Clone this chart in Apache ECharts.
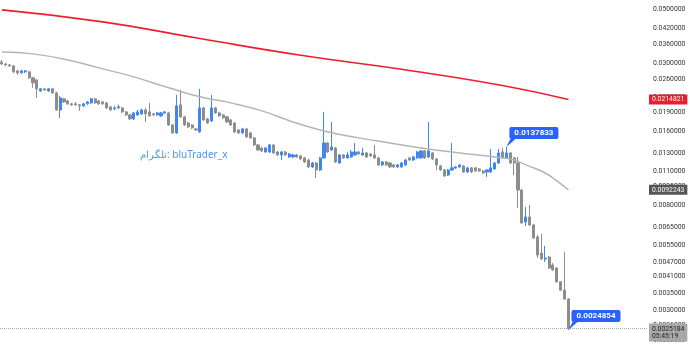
<!DOCTYPE html>
<html>
<head>
<meta charset="utf-8">
<script src="https://cdn.jsdelivr.net/npm/echarts@6/dist/echarts.min.js"></script>
<style>
html,body{margin:0;padding:0;background:#fff;}
#chart{width:690px;height:348px;}
</style>
</head>
<body>
<div id="chart"></div>
<script>
// ---- data ----
const opens = [
.03053,.02997,.02969,.02942,.02808,.02756,.02782,.02782,.02631,.02581,
.02328,.02373,.02328,.02373,.02285,.01949,.02161,.02120,.02062,.02062,
.02043,.02024,.02062,.02081,.02161,.02120,.02100,.02081,.02005,.01968,
.01986,.01986,.01913,.01860,.01792,.01860,.01878,.01949,.01913,.01878,
.01860,.01843,.01895,.01895,.01693,.01571,.02043,.01826,.01725,.01693,
.01631,.01586,.01986,.01792,.01758,.01986,.01895,.01860,.01826,.01774,
.01725,.01616,.01571,.01631,.01571,.01500,.01404,.01365,.01315,.01315,
.01404,.01315,.01279,.01315,.01255,.01255,.01279,.01267,.01244,.01220,
.01143,.01186,.01111,.01244,.01430,.01340,.01365,.01186,.01279,.01244,
.01255,.01279,.01315,.01279,.01303,.01291,.01279,.01244,.01165,.01198,
.01186,.01165,.01143,.01143,.01165,.01244,.01220,.01244,.01244,.01328,
.01255,.01303,.01232,.01154,.01111,.01060,.01111,.01133,.01143,.01154,
.01091,.01133,.01133,.01122,.01101,.01091,.01091,.01122,.01186,.01315,
.01244,.01303,.01244,.01186,.00921,.00683,.00716,.00664,.00594,.00511,
.00483,.00492,.00457,.00444,.00390,.00361,.00332];
const closes = [
.02997,.02969,.02942,.02782,.02756,.02808,.02808,.02631,.02510,.02373,
.02373,.02350,.02373,.02285,.01949,.02181,.02100,.02062,.02043,.02043,
.02024,.02062,.02100,.02161,.02081,.02062,.02062,.01986,.01949,.01986,
.02005,.01913,.01860,.01792,.01895,.01913,.01949,.01878,.01843,.01860,
.01895,.01895,.01913,.01693,.01571,.02024,.01826,.01693,.01662,.01647,
.01616,.01986,.01774,.01725,.01986,.01895,.01843,.01809,.01741,.01693,
.01586,.01571,.01631,.01514,.01500,.01404,.01340,.01328,.01365,.01404,
.01303,.01279,.01315,.01279,.01291,.01279,.01255,.01232,.01198,.01143,
.01186,.01111,.01244,.01430,.01315,.01378,.01198,.01279,.01244,.01279,
.01315,.01315,.01291,.01303,.01255,.01267,.01244,.01165,.01198,.01165,
.01143,.01143,.01165,.01186,.01220,.01220,.01255,.01315,.01328,.01244,
.01328,.01232,.01165,.01111,.01051,.01111,.01133,.01143,.01165,.01091,
.01133,.01091,.01101,.01101,.01080,.01111,.01133,.01186,.01303,.01244,
.01303,.01186,.01186,.00921,.00677,.00716,.00664,.00588,.00501,.00483,
.00487,.00444,.00436,.00390,.00361,.00332,.0025184];
const lows = [
.02969,.02942,.02915,.02756,.02705,.02730,.02756,.02606,.02396,.02181,
.02307,.02328,.02307,.02264,.01931,.01809,.02081,.02043,.02024,.02024,
.01931,.02005,.02043,.02062,.02062,.02043,.02043,.01968,.01931,.01949,
.01968,.01895,.01843,.01774,.01774,.01843,.01860,.01741,.01826,.01843,
.01843,.01826,.01878,.01678,.01557,.01557,.01809,.01678,.01647,.01631,
.01601,.01571,.01758,.01709,.01741,.01878,.01826,.01792,.01725,.01678,
.01571,.01557,.01557,.01500,.01486,.01391,.01328,.01315,.01303,.01303,
.01291,.01267,.01220,.01267,.01244,.01244,.01244,.01220,.01186,.01133,
.01133,.01031,.01101,.01232,.01303,.01328,.01186,.01175,.01232,.01232,
.01244,.01267,.01279,.01267,.01244,.01255,.01232,.01154,.01154,.01154,
.01133,.01133,.01133,.01133,.01154,.01209,.01209,.01232,.01232,.01232,
.01244,.01220,.01111,.01101,.01041,.01051,.01101,.01122,.01133,.01080,
.01080,.01080,.01091,.01091,.01070,.01041,.01080,.01111,.01175,.01232,
.01232,.01175,.01060,.00779,.00671,.00658,.00658,.00583,.00487,.00479,
.00470,.00440,.00432,.00386,.00358,.00329,.0024854];
const highs = [
.03111,.03025,.02997,.02969,.02834,.02834,.02834,.02808,.02655,.02606,
.02396,.02396,.02396,.02396,.02307,.02222,.02181,.02140,.02081,.02100,
.02062,.02081,.02120,.02181,.02181,.02140,.02120,.02100,.02024,.02024,
.02043,.02005,.01931,.01878,.01913,.01949,.01968,.01986,.02081,.01895,
.01913,.01913,.01931,.01913,.01709,.02243,.02350,.01843,.01741,.01709,
.01647,.02373,.02005,.01809,.02243,.02005,.01913,.01878,.01843,.01792,
.01741,.01631,.01647,.01647,.01586,.01514,.01417,.01378,.01378,.01417,
.01417,.01328,.01328,.01328,.01303,.01291,.01291,.01279,.01255,.01232,
.01198,.01198,.01255,.01913,.01444,.01741,.01378,.01291,.01291,.01315,
.01340,.01430,.01328,.01365,.01315,.01303,.01404,.01255,.01209,.01209,
.01198,.01175,.01175,.01198,.01232,.01255,.01267,.01328,.01340,.01340,
.01741,.01315,.01244,.01165,.01122,.01122,.01430,.01154,.01175,.01165,
.01143,.01143,.01143,.01133,.01111,.01122,.01353,.01198,.01353,.01365,
.0137833,.01315,.01255,.01255,.00930,.00786,.00801,.00671,.00605,.00611,
.00546,.00497,.00465,.00448,.00393,.00516,.00335];

// slow moving average (red) sampled at candle indices
const redIdx = [0, 26, 51, 77, 103, 129, 146];
const redVal = [.04968, .04440, .03800, .03250, .02850, .02450, .0214821];
// faster moving average (grey)
const grayIdx = [0,8,17,25,34,43,51,59,67,75,83,92,100,108,118,127,132,135,140,143,146];
const grayVal = [.03354,.03292,.03111,.02888,.02655,.02396,.02202,.02081,.01931,.01741,
                 .01601,.01500,.01430,.01365,.01303,.01255,.01220,.01165,.01080,.01003,.0092243];

const tickValues = [0.05,0.042,0.036,0.03,0.026,0.022,0.019,0.016,0.013,0.011,0.0095,
                    0.008,0.0065,0.0055,0.0047,0.0041,0.0035,0.003,0.0026,0.00225];
const countdown = '05:45:19';
const watermark = 'تلگرام: bluTrader_x';
const totalSlots = 167;   // candle slots incl. empty right margin

// ---- build ----
const categories = Array.from({length: totalSlots}, (_, i) => String(i));
const candleData = opens.map((o, i) => [o, closes[i], lows[i], highs[i]]);
const redData = redIdx.map((x, i) => [String(x), redVal[i]]);
const grayData = grayIdx.map((x, i) => [String(x), grayVal[i]]);
const hiIdx = 130, loIdx = opens.length - 1;
const fmt = v => Number(v).toFixed(7);
const blue = '#2962ff';
const axisFont = 'Roboto, Arial, sans-serif';

const chart = echarts.init(document.getElementById('chart'), null, {renderer: 'canvas'});
chart.setOption({
  animation: false,
  backgroundColor: '#ffffff',
  grid: {left: 0, right: 42, top: 0, bottom: 0},
  xAxis: {
    type: 'category', boundaryGap: true, data: categories,
    axisLine: {show: false}, axisTick: {show: false}, axisLabel: {show: false}, splitLine: {show: false}
  },
  yAxis: {
    type: 'log', logBase: 10, position: 'right', min: 0.0021, max: 0.0545,
    axisLine: {show: false}, axisTick: {show: false, customValues: tickValues},
    splitLine: {show: false},
    axisLabel: {
      customValues: tickValues, margin: 5, fontSize: 6.8, color: '#333',
      fontFamily: axisFont, formatter: v => fmt(v)
    }
  },
  graphic: [{
    type: 'text', left: 140, top: 150,
    style: {text: watermark, fill: '#4d94f0', font: '10px "Noto Sans", Arial, sans-serif'}
  }],
  series: [
    {
      type: 'line', data: redData, smooth: true, symbol: 'none', z: 3,
      lineStyle: {color: '#ee1c2e', width: 1.6},
      markLine: {
        silent: true, symbol: 'none', precision: 10, data: [{yAxis: redVal[redVal.length - 1]}],
        lineStyle: {color: 'rgba(0,0,0,0)'},
        label: {position: 'end', distance: 1, formatter: p => fmt(p.value), color: '#fff',
          backgroundColor: '#ee1c2e', padding: [2, 3, 1, 3], fontSize: 6.8, fontFamily: axisFont}
      }
    },
    {
      type: 'line', data: grayData, smooth: true, symbol: 'none', z: 3,
      lineStyle: {color: '#b5b5b5', width: 1.5},
      markLine: {
        silent: true, symbol: 'none', precision: 10, data: [{yAxis: grayVal[grayVal.length - 1]}],
        lineStyle: {color: 'rgba(0,0,0,0)'},
        label: {position: 'end', distance: 1, formatter: p => fmt(p.value), color: '#fff',
          backgroundColor: '#555555', padding: [2, 3, 1, 3], fontSize: 6.8, fontFamily: axisFont}
      }
    },
    {
      type: 'candlestick', data: candleData, barWidth: 2.6, z: 2,
      itemStyle: {color: '#3f86f2', color0: '#8d8d8d', borderColor: '#3f86f2', borderColor0: '#8d8d8d', borderWidth: 1},
      markLine: {
        silent: true, symbol: 'none', precision: 10, data: [{yAxis: closes[closes.length - 1]}],
        lineStyle: {type: 'dotted', color: '#aaaaaa', width: 1},
        label: {position: 'end', distance: 1, offset: [0, 4],
          formatter: p => fmt(p.value) + '\n' + countdown,
          color: '#222', backgroundColor: '#a8a8a8', padding: [2, 3, 2, 3], fontSize: 6.8,
          lineHeight: 7, fontFamily: axisFont}
      },
      markPoint: {
        silent: true,
        symbol: 'path://M0,8 L4,0 L9,0 Z', symbolSize: [9, 8], symbolOffset: [4.5, -4],
        itemStyle: {color: blue},
        label: {show: true, position: [3, -12], align: 'left', verticalAlign: 'top',
          color: '#fff', fontWeight: 'bold', fontSize: 8, lineHeight: 8,
          backgroundColor: blue, borderRadius: 2, padding: [2, 5, 2, 5],
          fontFamily: axisFont, formatter: p => fmt(p.value)},
        data: [
          {coord: [String(hiIdx), highs[hiIdx]], value: highs[hiIdx]},
          {coord: [String(loIdx), lows[loIdx]], value: lows[loIdx]}
        ]
      }
    }
  ]
});
</script>
</body>
</html>
